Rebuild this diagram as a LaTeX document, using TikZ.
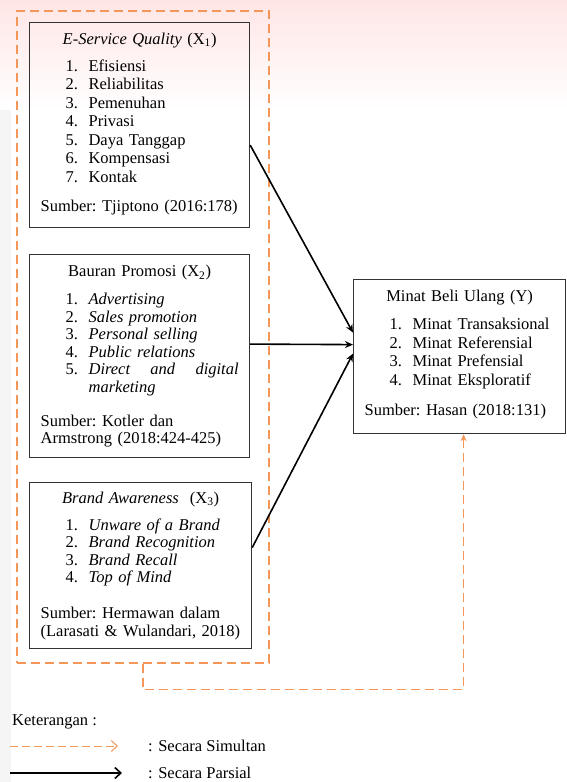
\documentclass[tikz,border=0pt]{standalone}
\usepackage[usenames,dvipsnames]{xcolor}
\usepackage{fontspec}
\setmainfont{Liberation Serif}
\usetikzlibrary{arrows.meta}
\definecolor{oranye}{RGB}{244,150,88}

\newcommand{\butir}[2]{\hspace*{25pt}\makebox[23pt][l]{#1.}#2}

\begin{document}
\begin{tikzpicture}[x=1pt,y=-1pt,
  kotak/.style={draw=black!80,line width=1.2pt,anchor=north west,
    inner xsep=11pt,inner ysep=0pt,align=left,
    font=\fontsize{16.5}{18.5}\selectfont\frenchspacing},
  rapat/.style={font=\fontsize{16.5}{17.5}\selectfont\frenchspacing},
  simultan/.style={draw=oranye,line width=1.5pt,dash pattern=on 9pt off 5pt},
  parsial/.style={line width=1.6pt,-{Stealth[length=8pt,width=7pt]}},
  teks/.style={anchor=west,inner sep=0pt,font=\fontsize{16.5}{18.5}\selectfont}]
  \useasboundingbox (0,0) rectangle (567,782);
  % latar
  \shade[top color=red!10,bottom color=white] (0,0) rectangle (567,110);
  \fill[black!4] (0,110) rectangle (11,782);

  % variabel bebas
  \node[kotak,text width=198pt,minimum height=205pt] (X1) at (29,22) {%
    \makebox[198pt]{\textit{E-Service Quality} (X\textsubscript{1})}\\[8.5pt]
    \butir{1}{Efisiensi}\\
    \butir{2}{Reliabilitas}\\
    \butir{3}{Pemenuhan}\\
    \butir{4}{Privasi}\\
    \butir{5}{Daya Tanggap}\\
    \butir{6}{Kompensasi}\\
    \butir{7}{Kontak}\\[10.5pt]
    Sumber: Tjiptono (2016:178)\rule[-6pt]{0pt}{6pt}};
  \node[kotak,rapat,text width=198pt,minimum height=203pt] (X2) at (29,254) {%
    \makebox[198pt]{Bauran Promosi (X\textsubscript{2})}\\[10.5pt]
    \butir{1}{\textit{Advertising}}\\
    \butir{2}{\textit{Sales promotion}}\\
    \butir{3}{\textit{Personal selling}}\\
    \butir{4}{\textit{Public relations}}\\
    \butir{5}{\makebox[150pt][l]{\itshape Direct\hfill and\hfill digital}}\\
    \hspace*{48pt}\textit{marketing}\\[16.5pt]
    Sumber: Kotler dan\\
    Armstrong (2018:424-425)};
  \node[kotak,rapat,text width=200pt,minimum height=166pt] (X3) at (29,482) {%
    \makebox[200pt]{\textit{Brand Awareness}\ \ (X\textsubscript{3})}\\[9.5pt]
    \butir{1}{\textit{Unware of a Brand}}\\
    \butir{2}{\textit{Brand Recognition}}\\
    \butir{3}{\textit{Brand Recall}}\\
    \butir{4}{\textit{Top of Mind}}\\[18.5pt]
    Sumber: Hermawan dalam\\
    (Larasati \& Wulandari, 2018)};

  % variabel terikat
  \node[kotak,text width=190pt,minimum height=154pt] (Y) at (353,279) {%
    \makebox[190pt]{Minat Beli Ulang (Y)}\\[9.5pt]
    \butir{1}{Minat Transaksional}\\
    \butir{2}{Minat Referensial}\\
    \butir{3}{Minat Prefensial}\\
    \butir{4}{Minat Eksploratif}\\[11.5pt]
    Sumber: Hasan (2018:131)\rule[-8pt]{0pt}{8pt}};

  % pengaruh simultan
  \node[simultan,anchor=north west,minimum width=252pt,minimum height=652pt,
    inner sep=0pt] (gabung) at (16,10) {};
  \draw[simultan,-{Stealth[length=7pt,width=6pt]}]
    (gabung.south) -- ++(0,26) -| ([xshift=4pt]Y.south);

  % pengaruh parsial
  \draw[parsial] ([yshift=-20pt]X1.east) -- ([yshift=24pt]Y.west);
  \draw[parsial] ([yshift=12pt]X2.east) -- ([yshift=12pt]Y.west);
  \draw[parsial] ([yshift=18pt]X3.east) -- ([yshift=3pt]Y.west);

  % keterangan
  \node[teks] (ket) at (12,722) {Keterangan :};
  \node[teks] (simul) at (148,746) {: Secara Simultan};
  \node[teks] (pars) at (148,773) {: Secara Parsial};
  \coordinate (s0) at (10,746);
  \coordinate (p0) at (10,773);
  \draw[draw=oranye,line width=1pt,dash pattern=on 8pt off 4pt,
    -{Straight Barb[length=6pt,width=11pt]}] (s0) -- ([xshift=-30pt]simul.west);
  \draw[line width=1.6pt,-{Straight Barb[length=6pt,width=11pt]}]
    (p0) -- ([xshift=-26pt]pars.west);
\end{tikzpicture}
\end{document}
